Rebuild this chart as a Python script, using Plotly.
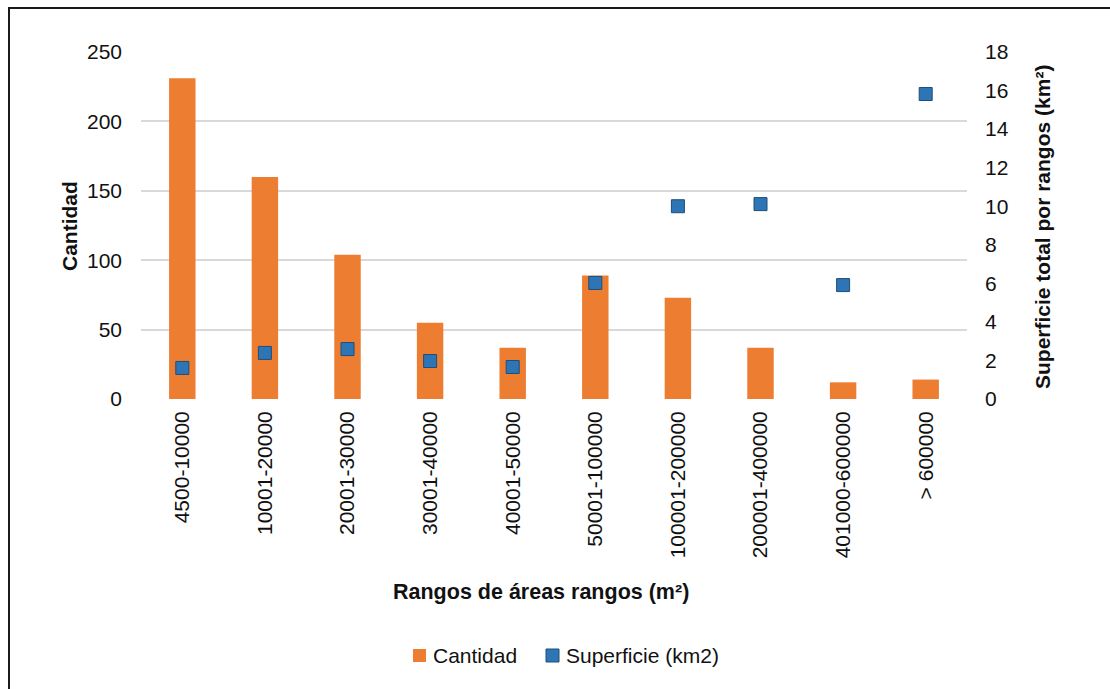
import plotly.graph_objects as go

# Area ranges (m²) used as categories
rangos = ["4500-10000", "10001-20000", "20001-30000", "30001-40000", "40001-50000",
          "50001-100000", "100001-200000", "200001-400000", "401000-600000", "> 600000"]

# Number of parcels in each range
cantidad = [231, 160, 104, 55, 37, 89, 73, 37, 12, 14]

# Total surface per range (km²)
superficie = [1.61, 2.39, 2.59, 1.97, 1.66, 6.02, 10.0, 10.11, 5.91, 15.82]

FONT = "Liberation Sans, Arial, sans-serif"
ORANGE = "#ED7D31"
BLUE = "#2E75B6"
BLUE_EDGE = "#1F4E79"
W, H = 1110, 689
L, R, T, B = 141, 143, 52, 290
pw, ph = W - L - R, H - T - B


def px(x):
    return (x - L) / pw


def py(y):
    return (H - B - y) / ph


fig = go.Figure()
fig.add_trace(go.Bar(
    x=rangos, y=cantidad, name="Cantidad",
    marker=dict(color=ORANGE, line=dict(width=0)),
    width=0.32, yaxis="y",
))
fig.add_trace(go.Scatter(
    x=rangos, y=superficie, name="Superficie (km2)", mode="markers",
    marker=dict(symbol="square", size=13, color=BLUE,
                line=dict(color=BLUE_EDGE, width=1)),
    yaxis="y2",
))

fig.update_layout(
    width=W, height=H,
    margin=dict(l=L, r=R, t=T, b=B),
    paper_bgcolor="white", plot_bgcolor="white",
    font=dict(family=FONT, size=21, color="#111111"),
    showlegend=False,
    xaxis=dict(
        range=[-0.5, len(rangos) - 0.5], autorange=False, automargin=False,
        tickangle=-90, tickfont=dict(size=21), showgrid=False, showline=False,
        ticks="", ticklabelstandoff=7, zeroline=False,
    ),
    yaxis=dict(
        range=[0, 250], dtick=50, showgrid=True, gridcolor="#d9d9d9", gridwidth=1.5,
        zeroline=False, showline=False, ticks="", ticklabelstandoff=18,
        tickfont=dict(size=21), automargin=False,
    ),
    yaxis2=dict(
        range=[0, 18], dtick=2, overlaying="y", side="right", showgrid=False,
        zeroline=False, showline=False, ticks="", ticklabelstandoff=17,
        tickfont=dict(size=21), automargin=False,
    ),
)

# Axis titles
fig.add_annotation(text="<b>Cantidad</b>", x=px(69), y=py(226), xref="paper", yref="paper",
                   xanchor="center", yanchor="middle",
                   textangle=-90, showarrow=False, font=dict(size=21, family=FONT))
fig.add_annotation(text="<b>Superficie total por rangos (km²)</b>", x=px(1042), y=py(227),
                   xref="paper", yref="paper", xanchor="center", yanchor="middle",
                   textangle=-90, showarrow=False, font=dict(size=21, family=FONT))
fig.add_annotation(text="<b>Rangos de áreas rangos (m²)</b>", x=px(541), y=py(592),
                   xref="paper", yref="paper", xanchor="center", yanchor="middle",
                   showarrow=False, font=dict(size=21.5, family=FONT))

# Legend: colour swatch followed by the series name
legend_items = [("Cantidad", ORANGE, ORANGE, 413), ("Superficie (km2)", BLUE, BLUE_EDGE, 546)]
for label, fill, edge, x0 in legend_items:
    fig.add_shape(type="rect", xref="paper", yref="paper",
                  x0=px(x0), x1=px(x0 + 13), y0=py(662), y1=py(649),
                  fillcolor=fill, line=dict(color=edge, width=1 if edge != fill else 0))
    fig.add_annotation(text=label, x=px(x0 + 18), y=py(655.5), xref="paper", yref="paper",
                       xanchor="left", yanchor="middle", showarrow=False,
                       font=dict(size=21, family=FONT))

# Frame around the chart (left and top edges)
fig.add_shape(type="line", xref="paper", yref="paper", x0=px(9), x1=px(9), y0=py(700), y1=py(8),
              line=dict(color="#1a1a1a", width=2))
fig.add_shape(type="line", xref="paper", yref="paper", x0=px(8), x1=px(1120), y0=py(8), y1=py(8),
              line=dict(color="#1a1a1a", width=2))

fig.write_html("out.html")
